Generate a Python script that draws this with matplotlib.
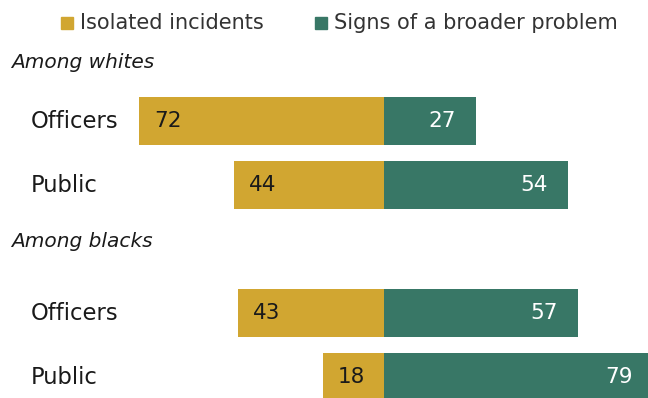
import matplotlib
matplotlib.use('Agg')
import matplotlib.pyplot as plt
from matplotlib.patches import Rectangle

# data
groups = ["Among whites", "Among blacks"]
categories = ["Officers", "Public", "Officers", "Public"]
isolated = [72, 44, 43, 18]
broader = [27, 54, 57, 79]
series_names = ["Isolated incidents", "Signs of a broader problem"]

gold = "#D1A631"
green = "#387766"

# row positions (gap row between groups)
rows = [0, 1, 3, 4]
header_rows = [-0.92, 1.89]

plt.rcParams['font.family'] = ['DejaVu Sans']

fig = plt.figure(figsize=(6.48, 3.98), dpi=100)
ax = fig.add_axes([0, 0, 1, 1])

ax.barh(rows, [-v for v in isolated], height=0.75, color=gold, edgecolor='none')
ax.barh(rows, broader, height=0.75, color=green, edgecolor='none')

for y, iv, bv in zip(rows, isolated, broader):
    ax.text(-iv + 4.4, y, str(iv), ha='left', va='center', fontsize=15.5, color='#1a1a1a')
    ax.text(bv - 5.8, y, str(bv), ha='right', va='center', fontsize=15.5, color='white')

label_tf = ax.get_yaxis_transform()
for y, cat in zip(rows, categories):
    ax.text(31 / 648, y, cat, transform=label_tf, ha='left', va='center',
            fontsize=16.3, color='#1a1a1a')

for y, g in zip(header_rows, groups):
    ax.text(11 / 648, y, g, transform=label_tf, ha='left', va='center',
            fontsize=14.5, style='italic', color='#1a1a1a')

# legend drawn by hand at top
legend_items = [(61, 80, series_names[0], gold), (315, 334, series_names[1], green)]
for sx, tx, name, col in legend_items:
    fig.patches.append(Rectangle((sx / 648, 1 - 29 / 398), 12 / 648, 12 / 398,
                                 transform=fig.transFigure, color=col))
    fig.text(tx / 648, 1 - 23 / 398, name, ha='left', va='center',
             fontsize=15, color='#333333')

ax.set_xlim(-384 / 3.4, 264 / 3.4)
ax.set_ylim(277 / 64, -121 / 64)
ax.axis('off')

fig.savefig("out.png", dpi=100)
